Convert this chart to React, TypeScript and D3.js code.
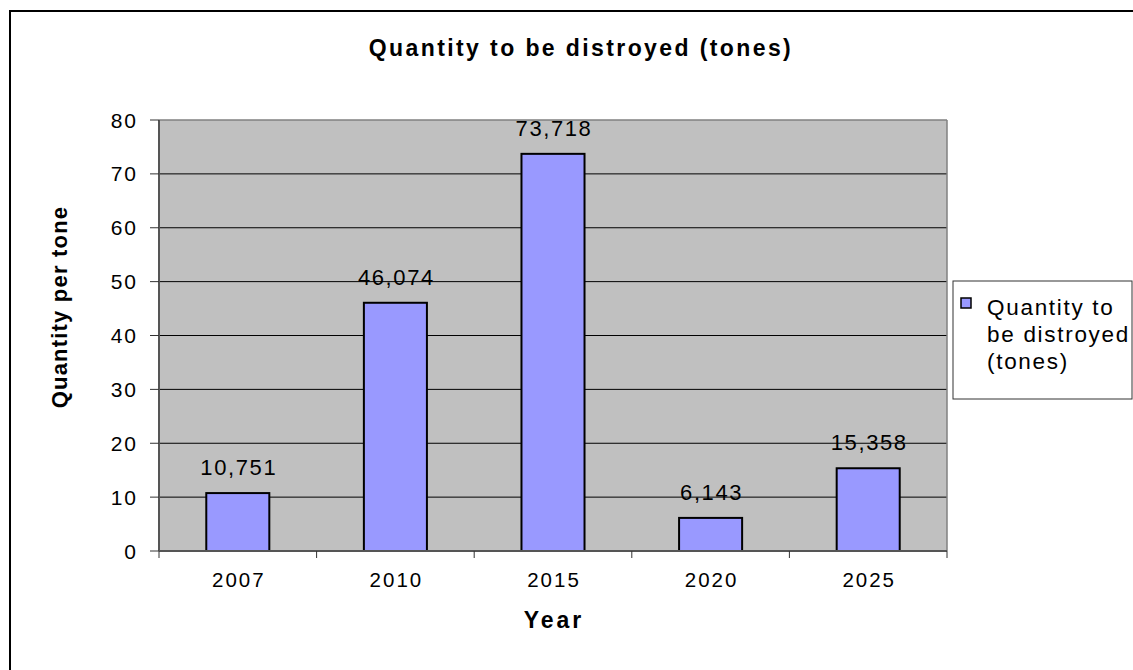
import React from 'react';
import * as d3 from 'd3';

const years: string[] = ['2007', '2010', '2015', '2020', '2025'];
const values: number[] = [10.751, 46.074, 73.718, 6.143, 15.358];
const yTicks: number[] = [0, 10, 20, 30, 40, 50, 60, 70, 80];
const chartTitle = 'Quantity to be distroyed (tones)';
const xTitle = 'Year';
const yTitle = 'Quantity per tone';
const legendLines: string[] = ['Quantity to', 'be distroyed', '(tones)'];

const FONT = '"Liberation Sans", Arial, Helvetica, sans-serif';
const BAR_FILL = '#9999FF';
const PLOT_FILL = '#C0C0C0';

const fmt = d3
  .formatLocale({ decimal: ',', thousands: '.', grouping: [3], currency: ['', ''] })
  .format('.3f');

export default function App() {
  const left = 159;
  const right = 947;
  const top = 120;
  const bottom = 551;

  const x = d3
    .scaleBand<string>()
    .domain(years)
    .range([left, right])
    .paddingInner(0.6)
    .paddingOuter(0.3);
  const y = d3.scaleLinear().domain([0, 80]).range([bottom, top]);
  const step = x.step();
  const catBounds = d3.range(years.length + 1).map((i) => left + i * step);

  return (
    <svg
      width={1133}
      height={670}
      style={{ position: 'absolute', left: 0, top: 0, background: '#fff' }}
      fontFamily={FONT}
    >
      <rect x={0} y={0} width={1133} height={670} fill="#fff" />
      {/* outer chart border */}
      <rect x={10} y={11} width={1130} height={670} fill="none" stroke="#000" strokeWidth={2} />

      {/* title */}
      <text
        x={581}
        y={56}
        textAnchor="middle"
        fontSize={23}
        fontWeight="bold"
        letterSpacing={2.4}
        fill="#000"
      >
        {chartTitle}
      </text>

      {/* plot area */}
      <rect x={left} y={top} width={right - left} height={bottom - top} fill={PLOT_FILL} />
      {/* gridlines */}
      {yTicks
        .filter((t) => t > 0 && t < 80)
        .map((t) => (
          <line key={'g' + t} x1={left} x2={right} y1={y(t)} y2={y(t)} stroke="#000" strokeWidth={1} />
        ))}
      {/* plot border top/right */}
      <line x1={left} x2={right} y1={top} y2={top} stroke="#808080" strokeWidth={1.5} />
      <line x1={right} x2={right} y1={top} y2={bottom} stroke="#808080" strokeWidth={1.5} />

      {/* bars */}
      {years.map((yr, i) => (
        <rect
          key={'b' + yr}
          x={x(yr)!}
          y={y(values[i])}
          width={x.bandwidth()}
          height={y(0) - y(values[i])}
          fill={BAR_FILL}
          stroke="#000"
          strokeWidth={2}
        />
      ))}

      {/* value labels */}
      {years.map((yr, i) => (
        <text
          key={'v' + yr}
          x={x(yr)! + x.bandwidth() / 2 + 1}
          y={y(values[i]) - 18}
          textAnchor="middle"
          fontSize={22}
          letterSpacing={1.6}
          fill="#000"
        >
          {fmt(values[i])}
        </text>
      ))}

      {/* y axis */}
      <line x1={left} x2={left} y1={top} y2={bottom} stroke="#555" strokeWidth={2} />
      {yTicks.map((t) => (
        <g key={'yt' + t}>
          <line x1={left - 9} x2={left} y1={y(t)} y2={y(t)} stroke="#333" strokeWidth={1} />
          <text
            x={138}
            y={y(t)}
            dy="0.36em"
            textAnchor="end"
            fontSize={21}
            letterSpacing={2}
            fill="#000"
          >
            {t}
          </text>
        </g>
      ))}

      {/* x axis */}
      <line x1={left} x2={right} y1={bottom} y2={bottom} stroke="#555" strokeWidth={2} />
      {catBounds.map((b, i) => (
        <line key={'xt' + i} x1={b} x2={b} y1={bottom} y2={bottom + 7} stroke="#333" strokeWidth={1} />
      ))}
      {years.map((yr) => (
        <text
          key={'xl' + yr}
          x={x(yr)! + x.bandwidth() / 2 + 1}
          y={587}
          textAnchor="middle"
          fontSize={20.5}
          letterSpacing={2}
          fill="#000"
        >
          {yr}
        </text>
      ))}

      {/* axis titles */}
      <text
        x={(left + right) / 2 + 1}
        y={628}
        textAnchor="middle"
        fontSize={23}
        fontWeight="bold"
        letterSpacing={3}
        fill="#000"
      >
        {xTitle}
      </text>
      <text
        transform={`translate(67, ${307}) rotate(-90)`}
        textAnchor="middle"
        fontSize={22}
        fontWeight="bold"
        letterSpacing={1.2}
        fill="#000"
      >
        {yTitle}
      </text>

      {/* legend */}
      <rect x={953} y={281} width={179} height={118} fill="#fff" stroke="#333" strokeWidth={1} />
      <rect x={961} y={298} width={10} height={10} fill={BAR_FILL} stroke="#000" strokeWidth={1.5} />
      {legendLines.map((l, i) => (
        <text
          key={'lg' + i}
          x={987}
          y={315 + i * 27}
          fontSize={22.5}
          letterSpacing={1.7}
          fill="#000"
        >
          {l}
        </text>
      ))}
    </svg>
  );
}
